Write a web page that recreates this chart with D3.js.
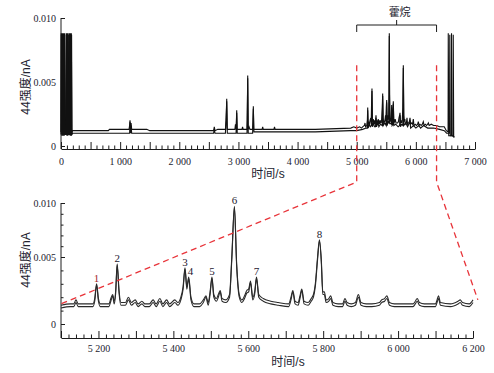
<!DOCTYPE html>
<html>
<head>
<meta charset="utf-8">
<script src="https://cdn.jsdelivr.net/npm/d3@7"></script>
<style>
  body { margin: 0; background: #fff; }
  svg { display: block; }
</style>
</head>
<body>
<script>
// --- data ---
// full run, two overlaid traces [time s, intensity nA]
const topTraceA = [[0,0.0011],[3,0.0088],[10,0.0010],[17,0.0088],[24,0.0010],[31,0.0088],[38,0.0010],[45,0.0088],[52,0.0010],[59,0.0088],[66,0.0010],[84,0.0010],[88,0.0088],[96,0.0010],[104,0.0088],[112,0.0010],[120,0.0088],[128,0.0010],[140,0.0010],[143,0.0088],[151,0.0010],[159,0.0088],[167,0.0010],[175,0.0088],[183,0.0010],[195,0.0012],[800,0.0012],[820,0.0013],[1150,0.0013],[1160,0.0016],[1167,0.0020],[1175,0.0013],[1185,0.0018],[1195,0.0013],[1450,0.0013],[1500,0.0012],[2580,0.0012],[2592,0.0015],[2604,0.0012],[2650,0.0013],[2780,0.0013],[2795,0.0020],[2802,0.0037],[2810,0.0013],[2940,0.0013],[2950,0.0017],[2958,0.0013],[2965,0.0018],[2971,0.0028],[2978,0.0013],[3060,0.0013],[3070,0.0015],[3080,0.0013],[3145,0.0013],[3150,0.0020],[3157,0.0055],[3164,0.0013],[3180,0.0015],[3195,0.0013],[3240,0.0013],[3246,0.0018],[3252,0.0031],[3259,0.0013],[3400,0.0013],[3410,0.0015],[3420,0.0013],[3600,0.0013],[3610,0.0015],[3620,0.0013],[4300,0.0013],[4900,0.0014],[4950,0.0015],[5000,0.0014],[5050,0.0015],[5080,0.0014],[5100,0.0015],[5130,0.0016],[5140,0.0018],[5150,0.0015],[5170,0.0016],[5180,0.0020],[5186,0.0030],[5192,0.0017],[5200,0.0019],[5210,0.0016],[5225,0.0020],[5238,0.0022],[5244,0.0017],[5250,0.0030],[5258,0.0045],[5265,0.0019],[5280,0.0021],[5290,0.0017],[5300,0.0020],[5310,0.0017],[5318,0.0019],[5326,0.0024],[5334,0.0017],[5346,0.0020],[5354,0.0017],[5364,0.0021],[5372,0.0017],[5382,0.0020],[5392,0.0017],[5404,0.0020],[5414,0.0018],[5422,0.0021],[5432,0.0030],[5439,0.0041],[5446,0.0022],[5456,0.0018],[5470,0.0019],[5480,0.0021],[5487,0.0024],[5494,0.0019],[5500,0.0030],[5507,0.0036],[5514,0.0020],[5522,0.0024],[5530,0.0020],[5540,0.0022],[5546,0.0040],[5551,0.0088],[5556,0.0040],[5565,0.0021],[5575,0.0019],[5585,0.0022],[5591,0.0032],[5597,0.0020],[5605,0.0022],[5612,0.0028],[5619,0.0035],[5626,0.0021],[5640,0.0019],[5650,0.0021],[5665,0.0018],[5690,0.0018],[5705,0.0019],[5715,0.0022],[5725,0.0024],[5732,0.0026],[5740,0.0018],[5752,0.0020],[5760,0.0018],[5770,0.0020],[5780,0.0030],[5788,0.0063],[5796,0.0024],[5806,0.0019],[5814,0.0021],[5822,0.0017],[5840,0.0018],[5850,0.0022],[5860,0.0017],[5875,0.0018],[5890,0.0019],[5901,0.0022],[5912,0.0017],[5930,0.0018],[5945,0.0017],[5957,0.0021],[5968,0.0016],[5990,0.0017],[6010,0.0016],[6030,0.0017],[6042,0.0019],[6054,0.0016],[6070,0.0017],[6090,0.0016],[6110,0.0017],[6126,0.0019],[6140,0.0016],[6160,0.0017],[6180,0.0016],[6200,0.0017],[6211,0.0018],[6225,0.0016],[6260,0.0017],[6300,0.0016],[6350,0.0016],[6400,0.0015],[6480,0.0015],[6515,0.0012],[6545,0.0011],[6548,0.0088],[6556,0.0008],[6600,0.0008],[6603,0.0088],[6610,0.0008],[6650,0.0007]];
const topTraceB = [[0,0.0009],[6,0.0087],[13,0.0008],[20,0.0087],[27,0.0008],[34,0.0087],[41,0.0008],[48,0.0087],[55,0.0008],[62,0.0087],[69,0.0009],[86,0.0009],[92,0.0087],[100,0.0008],[108,0.0087],[116,0.0008],[124,0.0087],[131,0.0009],[142,0.0009],[147,0.0087],[155,0.0008],[163,0.0087],[171,0.0008],[179,0.0087],[186,0.0009],[200,0.0010],[800,0.0010],[820,0.0010],[1160,0.0010],[1167,0.0019],[1175,0.0010],[1185,0.0016],[1195,0.0010],[2580,0.0010],[2592,0.0013],[2604,0.0010],[2780,0.0010],[2802,0.0035],[2812,0.0010],[2960,0.0010],[2971,0.0026],[2980,0.0010],[3145,0.0010],[3157,0.0053],[3166,0.0010],[3240,0.0010],[3252,0.0029],[3262,0.0011],[3500,0.0011],[4300,0.0011],[4900,0.0012],[5000,0.0012],[5100,0.0013],[5160,0.0014],[5180,0.0014],[5186,0.0028],[5194,0.0014],[5215,0.0017],[5230,0.0015],[5250,0.0016],[5258,0.0043],[5266,0.0015],[5285,0.0018],[5300,0.0015],[5318,0.0015],[5326,0.0022],[5334,0.0015],[5360,0.0018],[5375,0.0015],[5400,0.0017],[5430,0.0016],[5439,0.0039],[5448,0.0016],[5475,0.0018],[5498,0.0016],[5507,0.0034],[5515,0.0016],[5530,0.0019],[5545,0.0018],[5551,0.0086],[5557,0.0018],[5585,0.0017],[5591,0.0030],[5598,0.0016],[5612,0.0017],[5619,0.0033],[5627,0.0016],[5660,0.0017],[5700,0.0015],[5725,0.0016],[5732,0.0024],[5740,0.0015],[5760,0.0017],[5780,0.0016],[5788,0.0061],[5796,0.0016],[5830,0.0018],[5860,0.0015],[5901,0.0019],[5912,0.0014],[5960,0.0016],[6000,0.0014],[6050,0.0016],[6080,0.0014],[6130,0.0016],[6200,0.0014],[6300,0.0014],[6400,0.0013],[6480,0.0012],[6520,0.0010],[6570,0.0010],[6574,0.0087],[6582,0.0008],[6628,0.0008],[6632,0.0087],[6640,0.0007],[6655,0.0007]];

// zoomed window 5100-6200 s
const lowTraceA = [[5100,0.0014],[5125,0.0015],[5134,0.0015],[5140,0.0018],[5146,0.0015],[5185,0.0015],[5190,0.0019],[5195,0.0030],[5200,0.0019],[5205,0.0015],[5228,0.0015],[5233,0.0019],[5238,0.0022],[5242,0.0017],[5246,0.0025],[5250,0.0045],[5255,0.0025],[5260,0.0016],[5272,0.0016],[5280,0.0020],[5288,0.0016],[5298,0.0018],[5306,0.0015],[5316,0.0017],[5324,0.0015],[5336,0.0015],[5346,0.0018],[5354,0.0015],[5364,0.0019],[5372,0.0015],[5382,0.0018],[5390,0.0015],[5404,0.0018],[5412,0.0016],[5420,0.0020],[5426,0.0028],[5431,0.0042],[5436,0.0028],[5441,0.0035],[5447,0.0020],[5455,0.0015],[5470,0.0015],[5480,0.0018],[5487,0.0021],[5493,0.0016],[5498,0.0024],[5503,0.0035],[5508,0.0022],[5515,0.0019],[5520,0.0022],[5525,0.0025],[5530,0.0019],[5540,0.0018],[5550,0.0022],[5556,0.0050],[5563,0.0097],[5569,0.0045],[5576,0.0022],[5583,0.0018],[5590,0.0021],[5596,0.0025],[5601,0.0026],[5606,0.0032],[5612,0.0020],[5617,0.0024],[5622,0.0035],[5628,0.0022],[5640,0.0019],[5660,0.0017],[5680,0.0016],[5708,0.0015],[5714,0.0020],[5719,0.0025],[5725,0.0017],[5733,0.0016],[5738,0.0021],[5743,0.0026],[5749,0.0017],[5760,0.0016],[5768,0.0019],[5774,0.0022],[5779,0.0030],[5785,0.0050],[5790,0.0066],[5795,0.0048],[5799,0.0024],[5803,0.0024],[5808,0.0018],[5815,0.0019],[5820,0.0021],[5826,0.0016],[5840,0.0015],[5852,0.0015],[5858,0.0019],[5864,0.0016],[5875,0.0015],[5886,0.0016],[5894,0.0022],[5901,0.0016],[5915,0.0015],[5930,0.0015],[5950,0.0016],[5956,0.0018],[5964,0.0019],[5970,0.0021],[5977,0.0016],[5990,0.0015],[6040,0.0015],[6046,0.0017],[6051,0.0019],[6057,0.0016],[6070,0.0015],[6100,0.0015],[6104,0.0018],[6108,0.0021],[6113,0.0016],[6140,0.0015],[6160,0.0017],[6166,0.0018],[6172,0.0016],[6190,0.0015],[6200,0.0018]];
const lowTraceB = [[5100,0.0012],[5125,0.0013],[5134,0.0013],[5140,0.0016],[5146,0.0013],[5185,0.0013],[5190,0.0017],[5195,0.0029],[5200,0.0017],[5205,0.0013],[5228,0.0013],[5233,0.0017],[5238,0.0021],[5242,0.0015],[5246,0.0023],[5250,0.0044],[5255,0.0023],[5260,0.0014],[5272,0.0014],[5280,0.0018],[5288,0.0014],[5298,0.0016],[5306,0.0013],[5316,0.0015],[5324,0.0013],[5336,0.0013],[5346,0.0016],[5354,0.0013],[5364,0.0017],[5372,0.0013],[5382,0.0016],[5390,0.0013],[5404,0.0016],[5412,0.0014],[5420,0.0018],[5426,0.0026],[5431,0.0041],[5436,0.0026],[5441,0.0034],[5447,0.0018],[5455,0.0013],[5470,0.0013],[5480,0.0016],[5487,0.0020],[5493,0.0014],[5498,0.0022],[5503,0.0034],[5508,0.0020],[5515,0.0017],[5520,0.0020],[5525,0.0024],[5530,0.0017],[5540,0.0016],[5550,0.0020],[5556,0.0048],[5563,0.0096],[5569,0.0043],[5576,0.0020],[5583,0.0016],[5590,0.0019],[5596,0.0023],[5601,0.0024],[5606,0.0031],[5612,0.0018],[5617,0.0022],[5622,0.0034],[5628,0.0020],[5640,0.0017],[5660,0.0015],[5680,0.0014],[5708,0.0013],[5714,0.0018],[5719,0.0024],[5725,0.0015],[5733,0.0014],[5738,0.0019],[5743,0.0025],[5749,0.0015],[5760,0.0014],[5768,0.0017],[5774,0.0020],[5779,0.0028],[5785,0.0048],[5790,0.0065],[5795,0.0046],[5799,0.0022],[5803,0.0022],[5808,0.0016],[5815,0.0017],[5820,0.0019],[5826,0.0014],[5840,0.0013],[5852,0.0013],[5858,0.0017],[5864,0.0014],[5875,0.0013],[5886,0.0014],[5894,0.0020],[5901,0.0014],[5915,0.0013],[5930,0.0013],[5950,0.0014],[5956,0.0016],[5964,0.0017],[5970,0.0019],[5977,0.0014],[5990,0.0013],[6040,0.0013],[6046,0.0015],[6051,0.0017],[6057,0.0014],[6070,0.0013],[6100,0.0013],[6104,0.0016],[6108,0.0019],[6113,0.0014],[6140,0.0013],[6160,0.0015],[6166,0.0016],[6172,0.0014],[6190,0.0013],[6200,0.0016]];

// numbered peaks
const peakNames = ["1", "2", "3", "4", "5", "6", "7", "8"];
const peakTimes = [5195, 5250, 5431, 5446, 5503, 5563, 5622, 5790];
const peakValues = [0.0030, 0.0045, 0.0042, 0.0035, 0.0035, 0.0097, 0.0035, 0.0066];

// ticks
const topMajor = [0, 500, 1000, 1500, 2000, 2500, 3000, 3500, 4000, 4500, 5000, 5500, 6000, 6500, 7000];
const topLabels = [0, 1000, 2000, 3000, 4000, 5000, 6000, 7000];
const lowMajor = [5100, 5200, 5300, 5400, 5500, 5600, 5700, 5800, 5900, 6000, 6100, 6200];
const lowLabels = [5200, 5400, 5600, 5800, 6000, 6200];
const yLabels = [0, 0.005, 0.010];

// hopane window
const windowTimes = [5000, 6350];
const windowLowEnds = [[5100, 0.0015], [6213, 0.0018]];

const width = 494, height = 373;

const svg = d3.select("body").append("svg")
  .attr("width", width)
  .attr("height", height);

const loc = d3.formatLocale({ decimal: ".", thousands: " ", grouping: [3], currency: ["", ""] });
const fmtX = loc.format(",");
const fmtY = d => d === 0 ? "0" : d3.format(".3f")(d);

const xTop = d3.scaleLinear().domain([0, 7000]).range([61, 475]);
const yTop = d3.scaleLinear().domain([0, 0.010]).range([146, 18]);
const xLow = d3.scaleLinear().domain([5100, 6200]).range([61, 473]);
// the printed y axis of the lower panel is not evenly spaced
const yLow = d3.scaleLinear().domain([0, 0.005, 0.010]).range([324, 257, 203]);

const ink = "#1c1c1c";
const txt = "#23232f";

function drawAxes(x, y, axisY, major, labels, minorStep, padX, yMinor) {
  const g = svg.append("g");
  const d0 = x.domain()[0], d1 = x.domain()[1];
  const minor = d3.range(d0, d1 + 1e-6, minorStep).filter(v => !major.includes(v));

  g.append("g")
    .attr("transform", `translate(0,${axisY})`)
    .call(d3.axisBottom(x).tickValues(minor).tickSizeInner(-3.5).tickSizeOuter(0).tickFormat(""))
    .call(a => a.select(".domain").remove());

  g.append("g")
    .attr("transform", `translate(0,${axisY})`)
    .call(d3.axisBottom(x).tickValues(major).tickSizeInner(-7).tickSizeOuter(0)
      .tickPadding(padX).tickFormat(d => labels.includes(d) ? fmtX(d) : ""));

  const x0 = x.range()[0];
  g.append("g")
    .attr("transform", `translate(${x0},0)`)
    .call(d3.axisLeft(y).tickValues(yLabels).tickSizeInner(-4).tickSizeOuter(0).tickPadding(5).tickFormat(fmtY))
    .call(a => a.select(".domain").remove());

  if (yMinor) {
    g.append("g")
      .attr("transform", `translate(${x0},0)`)
      .call(d3.axisLeft(y).tickValues(yMinor).tickSizeInner(-2.5).tickSizeOuter(0).tickFormat(""))
      .call(a => a.select(".domain").remove());
  }

  g.append("line")
    .attr("x1", x0).attr("x2", x0)
    .attr("y1", y(0.010)).attr("y2", axisY)
    .attr("stroke", ink);

  g.selectAll("path, line").attr("stroke", ink).attr("stroke-width", 1);
  g.selectAll("text")
    .attr("fill", txt)
    .style("font-family", "'Liberation Serif', 'DejaVu Serif', serif")
    .style("font-size", "10px");
}

drawAxes(xTop, yTop, 149, topMajor, topLabels, 100, 9, null);
drawAxes(xLow, yLow, 338, lowMajor, lowLabels, 20, 7,
  [0.001, 0.002, 0.003, 0.004, 0.006, 0.007, 0.008, 0.009]);

// traces
const lineTop = d3.line().x(d => xTop(d[0])).y(d => yTop(d[1]));
const lineLow = d3.line().x(d => xLow(d[0])).y(d => yLow(d[1])).curve(d3.curveMonotoneX);

svg.append("g").selectAll("path")
  .data([topTraceB, topTraceA])
  .join("path")
  .attr("d", lineTop)
  .attr("fill", "none")
  .attr("stroke", "#111")
  .attr("stroke-width", 1.1);

svg.append("g").selectAll("path")
  .data([lowTraceB, lowTraceA])
  .join("path")
  .attr("d", lineLow)
  .attr("fill", "none")
  .attr("stroke", "#2a2a2a")
  .attr("stroke-width", 1.1);

// peak numbers
svg.append("g").selectAll("text")
  .data(peakNames)
  .join("text")
  .attr("x", (d, i) => xLow(peakTimes[i]))
  .attr("y", (d, i) => yLow(peakValues[i]) - 2)
  .attr("text-anchor", "middle")
  .attr("fill", (d, i) => i === 0 ? "#a3282c" : "#1e2030")
  .style("font-family", "'Liberation Serif', serif")
  .style("font-size", "11px")
  .text(d => d);

// bracket and title for the hopane window
const bx0 = xTop(windowTimes[0]), bx1 = xTop(windowTimes[1]);
svg.append("path")
  .attr("d", `M${bx0},32V25H${bx1}V32M${(bx0 + bx1) / 2},25V20`)
  .attr("fill", "none")
  .attr("stroke", ink)
  .attr("stroke-width", 1);
svg.append("text")
  .attr("x", (bx0 + bx1) / 2 + 3)
  .attr("y", 16)
  .attr("text-anchor", "middle")
  .attr("fill", txt)
  .style("font-family", "'Noto Sans CJK SC', sans-serif")
  .style("font-size", "11px")
  .text("藿烷");

// red dashed zoom guides
const dashG = svg.append("g")
  .attr("fill", "none")
  .attr("stroke", "#e8343a")
  .attr("stroke-width", 1.3)
  .attr("stroke-dasharray", "6,4");
windowTimes.forEach((t, i) => {
  const xt = xTop(t);
  const end = windowLowEnds[i];
  dashG.append("path")
    .attr("d", `M${xt},${yTop(0.0063)}V182L${xLow(end[0])},${yLow(end[1])}`);
});

// axis titles
const titleFont = "'Liberation Sans', 'Noto Sans CJK SC', sans-serif";
[[87], [260]].forEach(([cy]) => {
  svg.append("text")
    .attr("transform", `translate(30,${cy}) rotate(-90)`)
    .attr("text-anchor", "middle")
    .attr("fill", txt)
    .style("font-family", titleFont)
    .style("font-size", "12px")
    .text("44强度/nA");
});
[[268, 178], [288, 366]].forEach(([cx, cy]) => {
  svg.append("text")
    .attr("x", cx).attr("y", cy)
    .attr("text-anchor", "middle")
    .attr("fill", txt)
    .style("font-family", titleFont)
    .style("font-size", "12px")
    .text("时间/s");
});
</script>
</body>
</html>
